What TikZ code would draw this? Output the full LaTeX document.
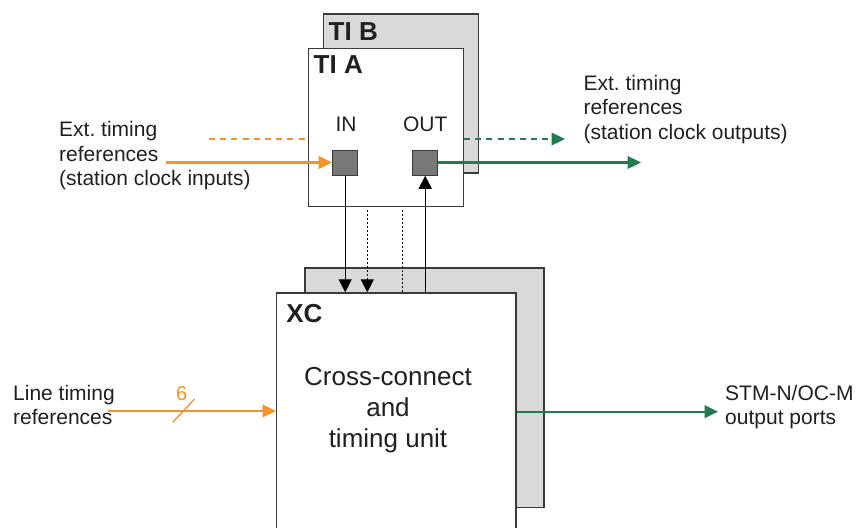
\documentclass[tikz,border=0pt]{standalone}
\usepackage{fontspec}
\setmainfont{Liberation Sans}
\usetikzlibrary{arrows.meta}
\frenchspacing
\definecolor{orng}{RGB}{245,147,38}
\definecolor{grn}{RGB}{32,124,74}
\definecolor{bordr}{RGB}{58,58,58}
\definecolor{backgray}{RGB}{217,217,217}
\definecolor{portgray}{RGB}{120,120,120}
\definecolor{txt}{RGB}{35,31,32}
\tikzset{
  backbox/.style={draw=bordr, line width=1.3pt, fill=backgray},
  frontbox/.style={draw=bordr, line width=1.3pt, fill=white, inner sep=0pt, anchor=north west},
  port/.style={draw=bordr, line width=1.2pt, fill=portgray, minimum width=25pt, minimum height=24.5pt, inner sep=0pt},
  lbl/.style={font=\fontsize{21}{24.5}\selectfont, text=txt, inner sep=0pt, align=left, anchor=north west},
  title/.style={font=\fontsize{26}{30}\selectfont\bfseries, text=txt, inner sep=0pt, anchor=base west},
  orarrow/.style={draw=orng, line width=2.3pt, -{Triangle[length=13.5pt,width=12.5pt]}},
  grarrow/.style={draw=grn, line width=2.3pt, -{Triangle[length=13.5pt,width=12.5pt]}},
  blarrow/.style={draw=black, line width=1.2pt, -{Triangle[length=13pt,width=13pt]}},
  dotline/.style={draw=black, line width=1.2pt, dash pattern=on 2pt off 2pt},
}
\begin{document}
\begin{tikzpicture}[x=1pt,y=-1pt]
\useasboundingbox (0,0) rectangle (858,527);
\clip (0,0) rectangle (858,527);
\fill[white] (0,0) rectangle (858,527);

% TI B / TI A
\node[backbox, inner sep=0pt, anchor=north west, minimum width=155pt, minimum height=159pt] (tib) at (322.7,13.3) {};
\node[title] (tibt) at (328.5,40.3) {TI B};
\node[frontbox, minimum width=155pt, minimum height=158pt] (tia) at (307.7,47.7) {};
\node[title] (tiat) at (313.5,73.3) {TI A};
\node[font=\fontsize{21}{24}\selectfont, text=txt, inner sep=0pt, anchor=base] (inl) at (346,131.5) {IN};
\node[font=\fontsize{21}{24}\selectfont, text=txt, inner sep=0pt, anchor=base] (outl) at (425.2,131.5) {OUT};
\node[port] (in) at (345.2,162.9) {};
\node[port] (out) at (425.2,162.9) {};

% XC
\node[backbox, inner sep=0pt, anchor=north west, minimum width=239pt, minimum height=239.4pt] (xcb) at (304.3,267.3) {};
\node[frontbox, minimum width=239.3pt, minimum height=260pt] (xc) at (276,292.3) {};
\node[title] (xct) at (286.2,322.7) {XC};
\node[font=\fontsize{26}{30.7}\selectfont, text=txt, inner sep=0pt, align=center, anchor=north] (xcl) at (388,367.5) {Cross-connect\\and\\timing unit};

% external timing inputs/outputs
\coordinate (odash) at (209,139);
\coordinate (gdash) at (565,139);
\coordinate (osol) at (166,162.5);
\coordinate (gsol) at (641,162.5);
\draw[draw=orng, line width=2.3pt, dash pattern=on 6pt off 5.2pt] (odash) -- (tia.west |- odash);
\draw[grarrow, dash pattern=on 6pt off 5.2pt] (tia.east |- gdash) -- (gdash);
\draw[orarrow] (osol) -- (in.west |- osol);
\draw[grarrow] (out.east |- gsol) -- (gsol);

% vertical links between TI A and XC
\coordinate (d1) at (367.3,210);
\coordinate (d2) at (402.3,210);
\draw[blarrow] (in.south) -- (in.south |- xc.north);
\draw[blarrow, dash pattern=on 2pt off 2pt] (d1) -- (d1 |- xc.north);
\draw[dotline] (d2) -- (d2 |- xc.north);
\draw[blarrow] (out.south |- xc.north) -- (out.south);

% line timing and output ports
\coordinate (lt) at (107.7,411);
\coordinate (stm) at (718,411.7);
\draw[orarrow] (lt) -- (xc.west |- lt);
\coordinate (s1) at (172.7,422.3);
\coordinate (s2) at (194.3,399.3);
\draw[draw=orng, line width=1.3pt] (s1) -- (s2);
\node[font=\fontsize{20}{22}\selectfont, text=orng, inner sep=0pt, anchor=base] (six) at (181.7,400) {6};
\draw[grarrow] (xc.east |- stm) -- (stm);

% text labels
\node[lbl] (extin) at (59,121.5) {Ext. timing\\references\\(station clock inputs)};
\node[lbl] (extout) at (583.3,74.8) {Ext. timing\\references\\(station clock outputs)};
\node[lbl] (ltl) at (13,384.8) {Line timing\\references};
\node[lbl] (stml) at (725,384.8) {STM-N/OC-M\\output ports};
\end{tikzpicture}
\end{document}
